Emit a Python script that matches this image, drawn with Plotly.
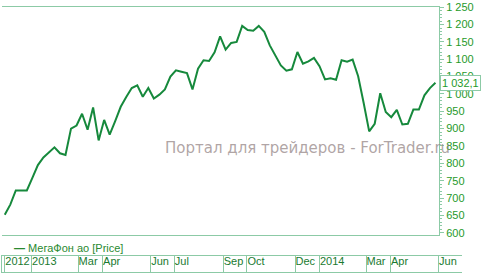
import plotly.graph_objects as go
import pandas as pd

# Weekly closing prices
prices = [652, 681, 722, 722, 722, 758, 795, 817, 832, 846,
          829, 824, 900, 909, 943, 897, 961, 866, 925, 883,
          922, 963, 991, 1017, 1025, 992, 1017, 987, 998, 1013,
          1050, 1068, 1064, 1060, 1013, 1073, 1097, 1095, 1120, 1166,
          1128, 1147, 1150, 1196, 1184, 1182, 1196, 1179, 1140, 1109,
          1082, 1067, 1071, 1121, 1087, 1094, 1104, 1080, 1042, 1045,
          1041, 1097, 1093, 1099, 1051, 974, 892, 914, 1002, 948,
          933, 954, 912, 914, 955, 955, 996, 1017, 1032.1]
dates = pd.date_range("2012-11-28", periods=len(prices), freq="7D")

cell_starts = ["2012-11-28", "2013-01-01", "2013-03-01", "2013-04-01", "2013-06-01",
               "2013-07-01", "2013-09-01", "2013-10-01", "2013-12-01", "2014-01-01",
               "2014-03-01", "2014-04-01", "2014-06-01"]
cell_labels = ["2012", "2013", "Mar", "Apr", "Jun", "Jul", "Sep", "Oct", "Dec",
               "2014", "Mar", "Apr", "Jun"]

series_name = "МегаФон ао [Price]"
last_label = "1 032,1"
watermark = "Портал для трейдеров - ForTrader.ru"

LINE = "#16893c"
BORDER = "#8ccaa6"
TXT = "#1f9a2a"

W, H = 481, 277
ML, MR, MT, MB = 2, 2, 6, 1
pw = W - ML - MR
ph = H - MT - MB
plot_right_px = 439
strip_right_px = 462
main_dom = (plot_right_px - ML) / pw
strip_dom = (strip_right_px - ML) / pw

x0 = pd.Timestamp("2012-11-24 12:00")
x1 = pd.Timestamp("2014-06-01 12:00")
x1_strip = x0 + (x1 - x0) * (strip_dom / main_dom)
y_range = [594.3, 1250.6]

fig = go.Figure()
fig.add_trace(go.Scatter(x=dates, y=prices, mode="lines",
                         line=dict(color=LINE, width=2), name=series_name,
                         showlegend=False))
# invisible trace for the date strip axis
fig.add_trace(go.Scatter(x=[dates[0]], y=[0.5], xaxis="x2", yaxis="y2",
                         mode="markers", marker=dict(opacity=0), showlegend=False,
                         hoverinfo="skip"))

fig.update_layout(
    width=W, height=H,
    margin=dict(l=ML, r=MR, t=MT, b=MB),
    paper_bgcolor="white", plot_bgcolor="white",
    separators=", ",
    font=dict(family="Liberation Sans, Arial, sans-serif", size=11, color=TXT),
    xaxis=dict(domain=[0, main_dom], range=[x0, x1], type="date", showticklabels=False,
               ticks="", showgrid=False, zeroline=False, showline=True,
               linecolor=BORDER, linewidth=1, mirror=True, anchor="y"),
    yaxis=dict(domain=[(H - MB - 238) / ph, 1], range=y_range, side="right", anchor="x",
               tickvals=list(range(600, 1251, 50)), ticks="outside", ticklen=4,
               tickcolor=BORDER, showgrid=False, zeroline=False, showline=True,
               linecolor=BORDER, linewidth=1, separatethousands=True,
               tickfont=dict(size=11, color=TXT), ticklabelstandoff=0,
               minor=dict(dtick=10, tick0=600, ticks="outside", ticklen=2,
                          tickcolor=BORDER)),
    yaxis3=dict(overlaying="y", range=y_range, side="left", anchor="x",
                showticklabels=False, tickvals=list(range(600, 1251, 50)),
                ticks="outside", ticklen=2, tickcolor=BORDER, showgrid=False,
                zeroline=False, showline=False,
                minor=dict(dtick=10, tick0=600, ticks="outside", ticklen=2,
                           tickcolor=BORDER)),
    xaxis2=dict(domain=[0, strip_dom], range=[x0, x1_strip], type="date", anchor="y2",
                tickvals=cell_starts, ticktext=cell_labels, ticks="",
                tickangle=0, ticklabelposition="inside right", ticklabelstandoff=1,
                showgrid=True, gridcolor=BORDER, gridwidth=1, zeroline=False,
                showline=True, linecolor=BORDER, linewidth=1, mirror=True,
                tickfont=dict(size=11, color="#1a7a30")),
    yaxis2=dict(domain=[0, 16 / ph], range=[0, 1], anchor="x2", showticklabels=False,
                ticks="", showgrid=False, zeroline=False, showline=True,
                linecolor=BORDER, linewidth=1, side="left"),
)

fig.add_annotation(xref="x domain", yref="y", x=1, y=prices[-1], xanchor="left",
                   xshift=1, text=last_label, showarrow=False,
                   font=dict(size=11, color=TXT), bgcolor="white",
                   bordercolor=BORDER, borderwidth=1, borderpad=1)
fig.add_annotation(xref="paper", yref="paper", x=(12 - ML) / pw, y=(H - MB - 252) / ph,
                   xanchor="left", yanchor="middle", text="<b>—</b> " + series_name,
                   showarrow=False, font=dict(size=11, color="#2a8a30"))
fig.add_annotation(xref="paper", yref="paper", x=(163 - ML) / pw, y=(H - MB - 150) / ph,
                   xanchor="left", yanchor="middle", text=watermark, showarrow=False,
                   font=dict(family="DejaVu Sans", size=15, color="rgba(150,135,135,0.75)"))

fig.write_html("out.html")
